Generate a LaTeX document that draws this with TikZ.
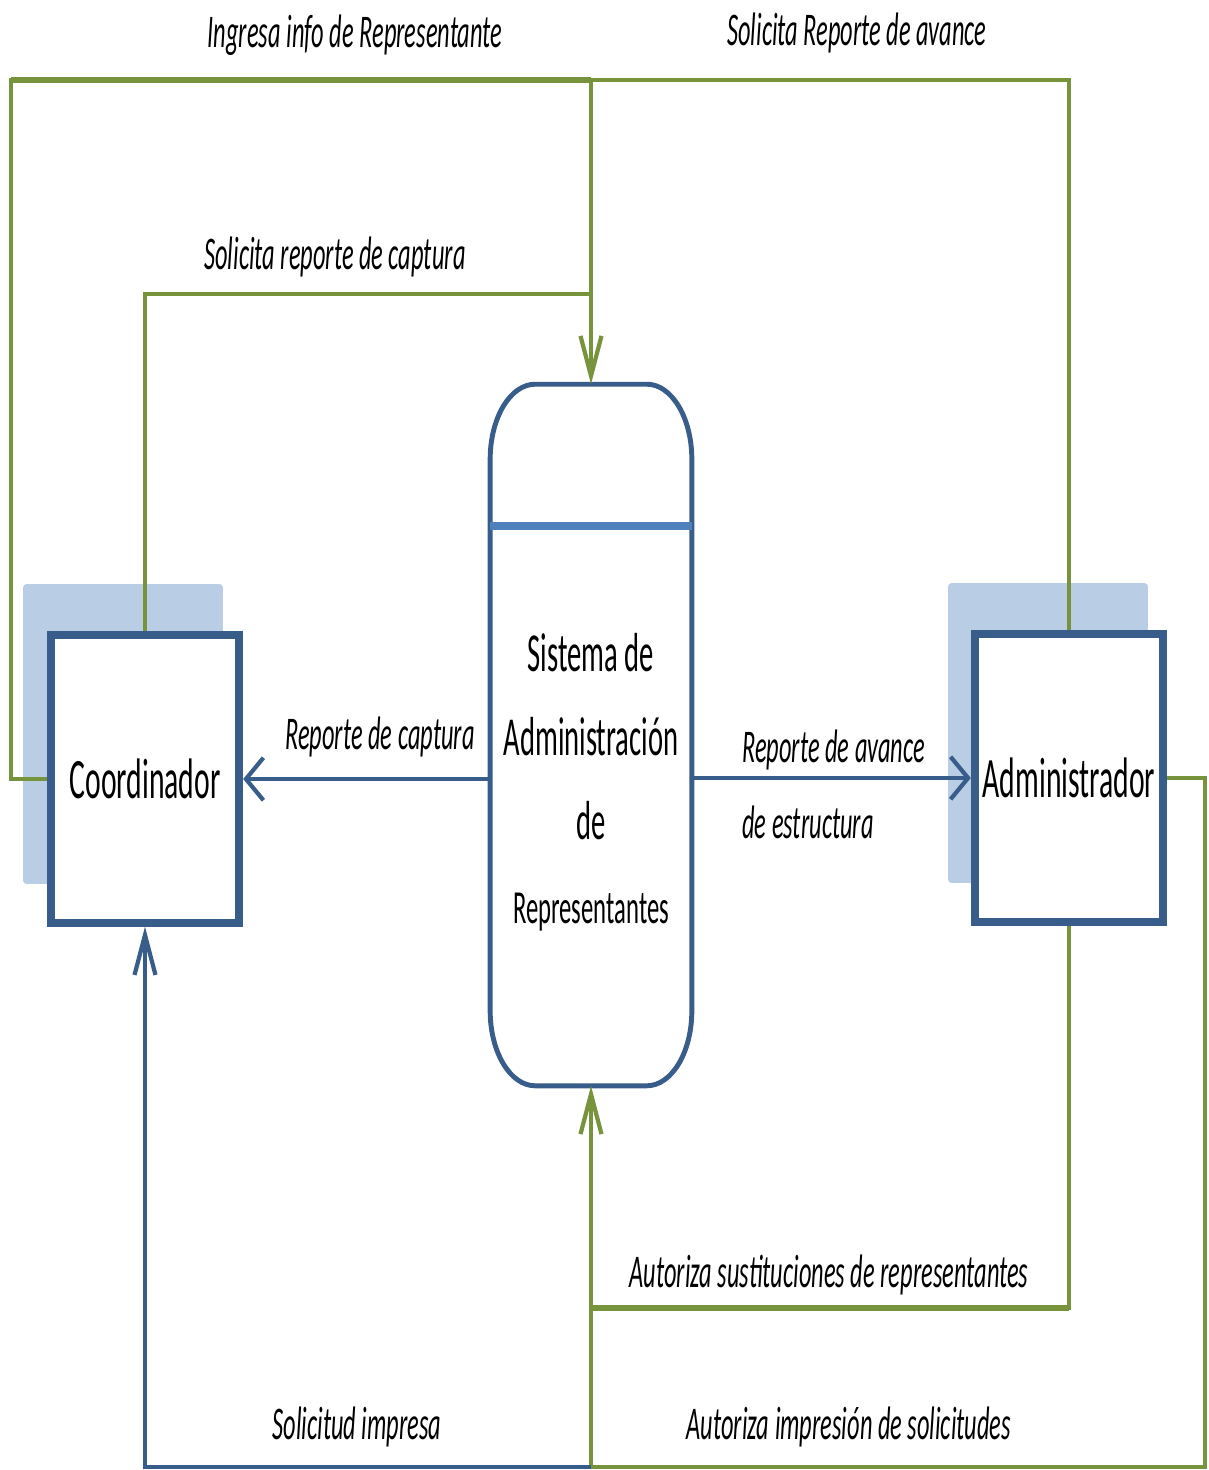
\documentclass[tikz,border=0pt]{standalone}
\usepackage{fontspec}
\setmainfont{Carlito}[FakeStretch=0.52]
\usepackage{tikz}
\usetikzlibrary{arrows.meta,positioning,calc}
\definecolor{dfdblue}{HTML}{385D8A}
\definecolor{dfdband}{HTML}{4F81BD}
\definecolor{dfdshade}{HTML}{B9CDE5}
\definecolor{dfdgreen}{HTML}{77933C}

\begin{document}
\begin{tikzpicture}[x=0.02cm,y=-0.02cm,
 ent/.style={draw=dfdblue,line width=4.5pt,fill=white,inner sep=0pt,minimum width=3.77cm,minimum height=5.75cm,font=\fontsize{32.5}{38}\selectfont},
 shadowbox/.style={fill=dfdshade,rounded corners=2pt,inner sep=0pt,minimum width=4cm,minimum height=6cm},
 lbl/.style={inner sep=0pt,font=\fontsize{26.7}{30}\selectfont\itshape},
 gflow/.style={draw=dfdgreen,line width=2.4pt},
 bflow/.style={draw=dfdblue,line width=2.4pt},
 harrow/.style={-{Straight Barb[length=0.35cm,width=0.85cm,line width=2.4pt]}},
 varrow/.style={-{Straight Barb[length=0.8cm,width=0.42cm,line width=2.4pt]}}]
\useasboundingbox (0,0) rectangle (1208,1470);
\node[shadowbox] (coordsh) at (123,734) {};
\node[shadowbox] (adminsh) at (1048,733) {};
\node[ent] (coord) at (145,779) {Coordinador};
\node[ent] (admin) at (1069,778) {Administrador};
\node[minimum width=4.02cm,minimum height=14.02cm,inner sep=0pt] (sys) at (591,735) {};
\draw[draw=dfdblue,line width=2.8pt,fill=white]
 ([yshift=-1.5cm]sys.north west) arc[start angle=180,end angle=90,x radius=0.9cm,y radius=1.5cm]
 -- ([xshift=-0.9cm]sys.north east) arc[start angle=90,end angle=0,x radius=0.9cm,y radius=1.5cm]
 -- ([yshift=1.5cm]sys.south east) arc[start angle=0,end angle=-90,x radius=0.9cm,y radius=1.5cm]
 -- ([xshift=0.9cm]sys.south west) arc[start angle=270,end angle=180,x radius=0.9cm,y radius=1.5cm]
 -- cycle;
\draw[draw=dfdband,line width=4.5pt] (sys.west |- 0,526) -- (sys.east |- 0,526);
\node[align=center,inner sep=0pt,font=\fontsize{31.3}{47.8}\selectfont] (systxt) at (591,782)
 {Sistema de\\Administración\\de\\{\fontsize{27}{47.8}\selectfont Representantes}};
\coordinate (jtop) at (591,80);
\coordinate (jcap) at (591,294);
\coordinate (jsub) at (591,1308);
\coordinate (jimp) at (591,1467);
\draw[gflow,varrow] (coord.west) -- (11,779) |- (jtop) -- (sys.north);
\draw[gflow,line width=3.4pt] (11,80) -- (jtop);
\draw[gflow] (admin.north) |- (jtop);
\draw[gflow] (coord.north) |- (jcap);
\draw[bflow,harrow] (sys.west |- coord.east) -- (coord.east);
\draw[bflow,harrow] (sys.east |- admin.west) -- (admin.west);
\draw[gflow,varrow] (admin.south) |- (jsub) -- (sys.south);
\draw[gflow,line width=3.4pt] (admin.south |- jsub) -- (jsub);
\draw[gflow] (admin.east) -- (1205,778) |- (jimp) -- (jsub);
\draw[bflow,varrow] (jimp) -| (coord.south);
\node[lbl] (lblingresa) at (355,35) {Ingresa info de Representante};
\node[lbl] (lblsolav) at (857,33) {Solicita Reporte de avance};
\node[lbl] (lblsolcap) at (335,257) {Solicita reporte de captura};
\node[lbl] (lblrepcap) at (380,737) {Reporte de captura};
\node[lbl,anchor=west] (lblrepav) at (742,750) {Reporte de avance};
\node[lbl,anchor=west] (lblestr) at (742,822) {de estructura};
\node[lbl] (lblsust) at (829,1275) {Autoriza sustituciones de representantes};
\node[lbl] (lblsolimp) at (357,1427) {Solicitud impresa};
\node[lbl] (lblautimp) at (849,1427) {Autoriza impresión de solicitudes};
\end{tikzpicture}
\end{document}
